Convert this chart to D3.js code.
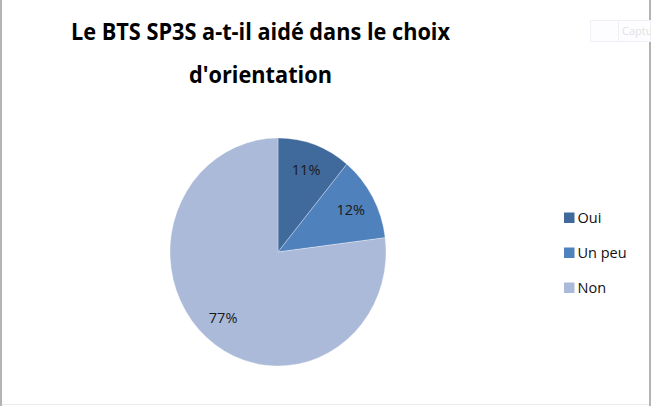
<!DOCTYPE html>
<html><head><meta charset="utf-8">
<script src="https://cdn.jsdelivr.net/npm/d3@7"></script>
<style>html,body{margin:0;padding:0;background:#fff;overflow:hidden}</style>
</head><body>
<svg id="c" width="651" height="406"></svg>
<script>
const categories = ["Oui", "Un peu", "Non"];
const values = [11, 12, 77];
const labels = ["11%", "12%", "77%"];
const colors = ["#416a9c", "#4f81bd", "#abbad8"];
const titleLines = ["Le BTS SP3S a-t-il aidé dans le choix", "d'orientation"];

const svg = d3.select("#c");
const font = "'Open Sans', 'Noto Sans', sans-serif";

// frame
svg.append("rect").attr("x",0).attr("y",0).attr("width",651).attr("height",406).attr("fill","#fff");
svg.append("rect").attr("x",0).attr("y",0).attr("width",2).attr("height",406).attr("fill","#b4b4b4");
svg.append("rect").attr("x",649).attr("y",0).attr("width",2).attr("height",406).attr("fill","#b4b4b4");
svg.append("rect").attr("x",2).attr("y",404).attr("width",647).attr("height",1).attr("fill","#ececec");

// faint watermark box
svg.append("rect").attr("x",590.5).attr("y",20.5).attr("width",60).attr("height",21)
  .attr("fill","#fdfdff").attr("stroke","#eef0f5");
svg.append("line").attr("x1",618.5).attr("x2",618.5).attr("y1",21).attr("y2",41).attr("stroke","#eef0f5");
svg.append("text").attr("x",622).attr("y",35).attr("font-family",font).attr("font-size",11)
  .attr("fill","#e2e2e2").text("Captu");

// title
const tl = [{t:titleLines[0], y:39.5, w:379}, {t:titleLines[1], y:82.5, w:143}];
tl.forEach(d => {
  svg.append("text").attr("x",260.5).attr("y",d.y).attr("text-anchor","middle")
    .attr("font-family",font).attr("font-weight","bold").attr("font-size",24)
    .attr("fill","#000").attr("textLength",d.w).attr("lengthAdjust","spacingAndGlyphs").text(d.t);
});

// pie
const cx = 278, cy = 252, R = 108, sy = 114/108;
const pie = d3.pie().sort(null).value(d => d)(values);
const arc = d3.arc().innerRadius(0).outerRadius(R);
const g = svg.append("g").attr("transform", `translate(${cx},${cy}) scale(1,${sy})`);
g.selectAll("path").data(pie).join("path")
  .attr("d", arc).attr("fill", (d,i) => colors[i])
  .attr("stroke", "#fff").attr("stroke-width", 0.6).attr("stroke-opacity", 0.5);

const labArc = d3.arc().innerRadius(83).outerRadius(83);
svg.selectAll("text.lab").data(pie).join("text").attr("class","lab")
  .attr("x", d => cx + labArc.centroid(d)[0])
  .attr("y", d => cy + labArc.centroid(d)[1]*sy + 5.5)
  .attr("text-anchor","middle").attr("font-family",font).attr("font-size",14.5)
  .attr("fill","#1a1a1a").text((d,i) => labels[i]);

// legend
const ly = d3.scalePoint().domain(categories).range([212.5, 282.5]);
const lg = svg.selectAll("g.leg").data(categories).join("g").attr("class","leg")
  .attr("transform", d => `translate(564,${ly(d)})`);
lg.append("rect").attr("width",10.5).attr("height",10.5).attr("fill",(d,i) => colors[i]);
lg.append("text").attr("x",13.5).attr("y",10.5).attr("font-family",font).attr("font-size",14.5)
  .attr("fill","#111").text(d => d);
</script>
</body></html>
